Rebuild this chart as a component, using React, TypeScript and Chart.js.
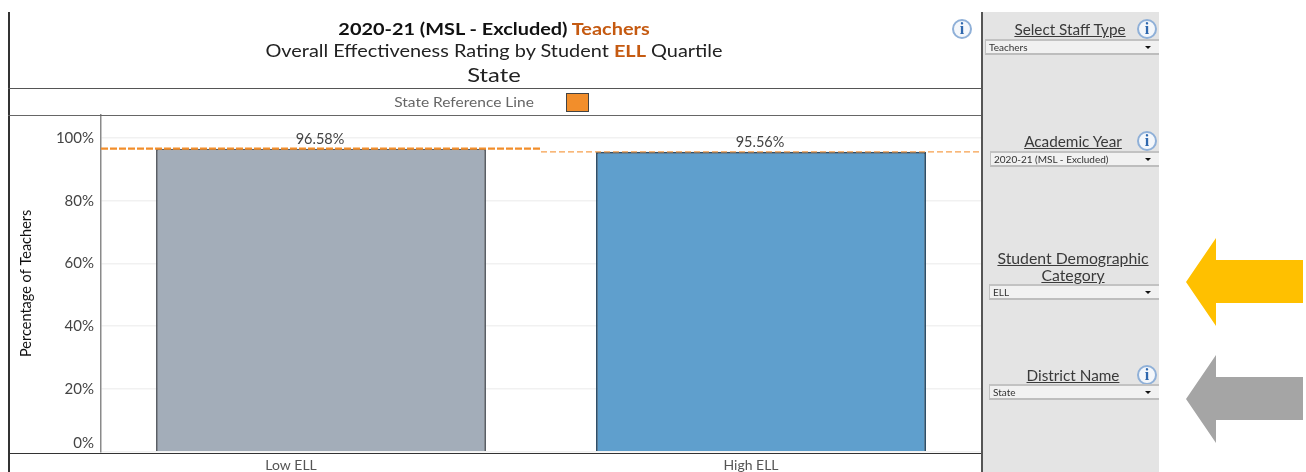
import React, { useEffect, useRef } from "react";
import { Chart, registerables } from "chart.js";

Chart.register(...registerables);

const categories = ["Low ELL", "High ELL"];
const barValues = [96.58, 95.56];
const barColors = ["#A3ADB9", "#5F9FCD"];
const barBorders = ["#5A5F66", "#2F4F68"];
const yTickValues = [0, 20, 40, 60, 80, 100];
const lowRefLine = [
  { x: -0.5, y: 96.58 },
  { x: 0.5, y: 96.58 },
];
const highRefLine = [
  { x: 0.5, y: 95.56 },
  { x: 1.5, y: 95.56 },
];

const FONT = "Lato, 'Open Sans', sans-serif";
const xLabelShift = [-30, -10];

const overlayPlugin = {
  id: "overlayText",
  afterDraw(chart: any) {
    const { ctx, scales, chartArea } = chart;
    const meta = chart.getDatasetMeta(0);
    ctx.save();
    ctx.textAlign = "center";
    ctx.textBaseline = "middle";
    ctx.fillStyle = "#444";
    ctx.font = `14.5px ${FONT}`;
    meta.data.forEach((bar: any, i: number) => {
      ctx.fillText(barValues[i].toFixed(2) + "%", bar.x - 1, bar.y - 9.5);
    });
    ctx.fillStyle = "#555";
    ctx.font = `14px ${FONT}`;
    categories.forEach((c, i) => {
      ctx.fillText(c, scales.x.getPixelForValue(i) + xLabelShift[i], chartArea.bottom + 13.5);
    });
    ctx.textAlign = "right";
    ctx.fillStyle = "#444";
    ctx.font = `15px ${FONT}`;
    ctx.fillText("0%", chartArea.left - 7, scales.y.getPixelForValue(0) - 9);
    ctx.restore();
  },
};

const line = (x: number, y: number, w: number, h: number, color: string) => (
  <div style={{ position: "absolute", left: x, top: y, width: w, height: h, background: color }} />
);

const Info = ({ x, y, r = 10 }: { x: number; y: number; r?: number }) => (
  <div
    style={{
      position: "absolute",
      left: x - r,
      top: y - r,
      width: 2 * r - 4,
      height: 2 * r - 4,
      border: "2px solid #8FB0D8",
      borderRadius: "50%",
      color: "#2F68AE",
      font: `bold ${r * 1.6}px/${2 * r - 4}px 'Liberation Serif', serif`,
      textAlign: "center",
      background: "#F4F7FB",
    }}
  >
    i
  </div>
);

const Dropdown = ({ x, y, h, text }: { x: number; y: number; h: number; text: string }) => (
  <div
    style={{
      position: "absolute",
      left: x,
      top: y,
      width: 1159 - x,
      height: h,
      boxSizing: "border-box",
      background: "#F1F1F1",
      borderTop: "2px solid #C2C2C2",
      borderBottom: "2px solid #BDBDBD",
      borderLeft: "1.5px solid #C2C2C2",
      font: `10px/${h - 4}px ${FONT}`,
      color: "#333",
      paddingLeft: 3,
      whiteSpace: "nowrap",
    }}
  >
    {text}
    <div
      style={{
        position: "absolute",
        left: 1144 - x,
        top: (h - 4) / 2 - 1.5,
        width: 0,
        height: 0,
        borderLeft: "3px solid transparent",
        borderRight: "3px solid transparent",
        borderTop: "3.5px solid #111",
      }}
    />
  </div>
);

const PanelLabel = ({ cx, y, text, size = 15.3 }: { cx: number; y: number; text: string; size?: number }) => (
  <div
    style={{
      position: "absolute",
      left: cx - 100,
      top: y - 10,
      width: 200,
      height: 20,
      textAlign: "center",
      font: `${size}px/20px ${FONT}`,
      color: "#3A3A3A",
      textDecoration: "underline",
      whiteSpace: "nowrap",
    }}
  >
    {text}
  </div>
);

const Heading = ({ top, size, stretch, children, color = "#222", weight = "normal" }: any) => (
  <div
    style={{
      position: "absolute",
      left: 194,
      width: 600,
      top,
      textAlign: "center",
      font: `${weight} ${size}px/20px ${FONT}`,
      color,
      whiteSpace: "nowrap",
      transform: `scaleX(${stretch})`,
    }}
  >
    {children}
  </div>
);

const Arrow = ({ top, color }: { top: number; color: string }) => (
  <svg style={{ position: "absolute", left: 1186, top, width: 117, height: 88 }} viewBox="0 0 117 88">
    <polygon points="0,44 30,0 30,22 117,22 117,65 30,65 30,88" fill={color} />
  </svg>
);

export default function App() {
  const ref = useRef<HTMLCanvasElement>(null);
  useEffect(() => {
    document.body.style.margin = "0";
    const chart = new Chart(ref.current as HTMLCanvasElement, {
      type: "bar",
      data: {
        datasets: [
          {
            type: "bar",
            data: barValues.map((y, x) => ({ x, y })),
            backgroundColor: barColors,
            borderColor: barBorders,
            borderWidth: 1.8,
            barPercentage: 0.75,
            categoryPercentage: 1,
            order: 2,
          },
          {
            type: "line",
            data: lowRefLine,
            borderColor: "#F28E2B",
            borderWidth: 2.2,
            borderDash: [7, 2],
            pointRadius: 0,
            order: 1,
          },
          {
            type: "line",
            data: highRefLine,
            borderColor: "#F6A04D",
            borderWidth: 1.3,
            borderDash: [6, 3],
            pointRadius: 0,
            order: 1,
          },
        ] as any,
      },
      options: {
        responsive: false,
        animation: false,
        layout: { padding: { left: 18, right: 325, top: 115, bottom: 20.3 } },
        plugins: { legend: { display: false }, tooltip: { enabled: false } },
        scales: {
          x: {
            type: "linear",
            min: -0.5,
            max: 1.5,
            offset: false,
            display: false,
            afterBuildTicks: (s: any) => {
              s.ticks = categories.map((_, value) => ({ value }));
            },
          },
          y: {
            min: 0,
            max: 107.3,
            afterFit: (s: any) => {
              s.width = 83;
            },
            afterBuildTicks: (s: any) => {
              s.ticks = yTickValues.map((value) => ({ value }));
            },
            grid: { color: "#F1F1F1", lineWidth: 1.5, drawTicks: false },
            border: { color: "#8A8A8A", width: 1.5 },
            ticks: {
              padding: 7,
              color: (c: any) => (c.tick.value === 0 ? "rgba(0,0,0,0)" : "#444"),
              font: { family: FONT, size: 15 },
              callback: (v: any) => v + "%",
            },
            title: {
              display: true,
              text: "Percentage of Teachers",
              color: "#111",
              font: { family: "'Liberation Sans Narrow', " + FONT, size: 14.5 },
              padding: 0,
            },
          },
        },
      } as any,
      plugins: [overlayPlugin],
    });
    return () => chart.destroy();
  }, []);

  return (
    <div style={{ position: "absolute", left: 0, top: 0, width: 1306, height: 472, overflow: "hidden", background: "#fff" }}>
      <div style={{ position: "absolute", inset: 0, filter: "blur(0.45px)" }}>
        <canvas ref={ref} width={1306} height={472} style={{ position: "absolute", left: 0, top: 0, display: "block" }} />
        {line(983, 12, 176, 460, "#E4E4E4")}
        {line(8, 12, 1.5, 460, "#333")}
        {line(981, 12, 2, 460, "#555")}
        {line(8, 87.5, 973, 1.5, "#555")}
        {line(8, 114.5, 973, 1.5, "#666")}
        {line(8, 452.5, 973, 1.5, "#333")}

        <Heading top={19} size={17} stretch={1.17} weight="bold" color="#111">
          2020-21 (MSL - Excluded) <span style={{ color: "#C55A11" }}>Teachers</span>
        </Heading>
        <Heading top={41} size={17} stretch={1.17}>
          Overall Effectiveness Rating by Student <b style={{ color: "#C55A11" }}>ELL</b> Quartile
        </Heading>
        <Heading top={65} size={19} stretch={1.25}>
          State
        </Heading>

        <div style={{ position: "absolute", left: 364, width: 200, top: 94, textAlign: "center", font: `12.5px/18px ${FONT}`, color: "#666", transform: "scaleX(1.24)" }}>State Reference Line</div>
        <div style={{ position: "absolute", left: 566, top: 93, width: 23, height: 19, boxSizing: "border-box", background: "#F28E2B", border: "1.5px solid #444" }} />
        <Info x={962} y={29} />

        <PanelLabel cx={1070} y={29} text="Select Staff Type" />
        <Info x={1147} y={29} />
        <Dropdown x={985} y={39} h={16} text="Teachers" />

        <PanelLabel cx={1073} y={141} text="Academic Year" />
        <Info x={1147} y={141} />
        <Dropdown x={990} y={151} h={16} text="2020-21 (MSL - Excluded)" />

        <PanelLabel cx={1073} y={258} text="Student Demographic " size={15.8} />
        <PanelLabel cx={1073} y={275} text="Category" size={15.8} />
        <Dropdown x={989} y={284} h={16} text="ELL" />

        <PanelLabel cx={1073} y={375} text="District Name" />
        <Info x={1147} y={375} />
        <Dropdown x={989} y={384} h={16} text="State" />

        {line(1159, 12, 12, 460, "#fff")}
      </div>
      <Arrow top={238} color="#FFC000" />
      <Arrow top={355} color="#A5A5A5" />
    </div>
  );
}
